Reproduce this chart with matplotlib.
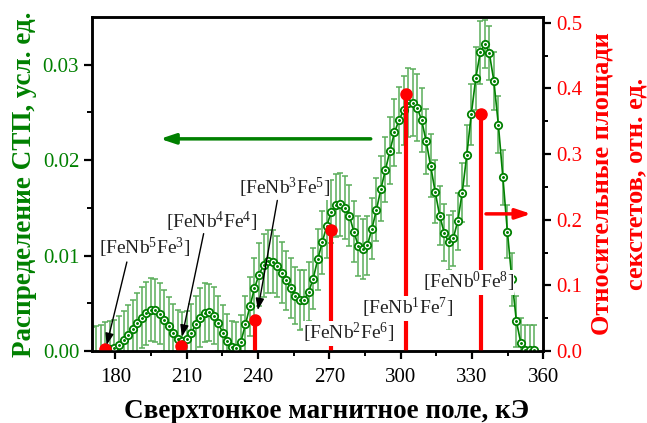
import numpy as np
import matplotlib
matplotlib.use('Agg')
import matplotlib.pyplot as plt

plt.rcParams['font.family'] = ['Liberation Serif', 'DejaVu Serif']
plt.rcParams['mathtext.fontset'] = 'custom'
plt.rcParams['mathtext.rm'] = 'Liberation Serif'
plt.rcParams['mathtext.it'] = 'Liberation Serif:italic'

# ── hyperfine field distribution (P(H)) ──
field = [170.1, 172.0, 173.9, 175.8, 177.7, 179.6, 181.5, 183.4, 185.3, 187.2,
         189.1, 191.0, 192.9, 194.8, 196.7, 198.6, 200.5, 202.4, 204.3, 206.2,
         208.1, 210.0, 211.9, 213.8, 215.7, 217.6, 219.5, 221.4, 223.3, 225.2,
         227.1, 229.0, 230.9, 232.8, 234.7, 236.6, 238.5, 240.4, 242.3, 244.2,
         246.1, 248.0, 249.9, 251.8, 253.7, 255.6, 257.5, 259.4, 261.3, 263.2,
         265.1, 267.0, 268.9, 270.8, 272.7, 274.6, 276.5, 278.4, 280.3, 282.2,
         284.1, 286.0, 287.9, 289.8, 291.7, 293.6, 295.5, 297.4, 299.3, 301.2,
         303.1, 305.0, 306.9, 308.8, 310.7, 312.6, 314.5, 316.4, 318.3, 320.2,
         322.1, 324.0, 325.9, 327.8, 329.7, 331.6, 333.5, 335.4, 337.3, 339.2,
         341.1, 343.0, 344.9, 346.8, 348.7, 350.6, 352.5, 354.4, 356.3]
p_h = [-0.6, -0.5, -0.3, 0.0, 0.2, 0.35, 0.63, 1.15, 1.7, 2.3,
       2.9, 3.5, 3.95, 4.35, 4.3, 3.9, 3.25, 2.6, 1.9, 1.3,
       1.05, 1.25, 1.9, 2.8, 3.5, 4.0, 4.05, 3.7, 2.9, 1.9,
       1.05, 0.4, 0.3, 1.0, 2.8, 4.7, 6.6, 8.0, 9.0, 9.4,
       9.35, 8.9, 8.2, 7.4, 6.6, 5.8, 5.35, 5.4, 6.2, 7.6,
       9.6, 11.4, 13.1, 14.6, 15.3, 15.4, 15.0, 14.2, 12.5, 11.0,
       10.7, 11.1, 12.8, 14.8, 17.0, 19.0, 21.0, 22.9, 24.2, 25.2,
       26.0, 26.0, 25.5, 24.2, 22.0, 19.4, 16.7, 14.2, 12.4, 11.4,
       11.8, 13.6, 16.6, 20.5, 24.8, 28.6, 31.3, 32.2, 31.2, 28.3,
       23.7, 18.2, 12.5, 7.5, 3.1, 0.8, 0.15, 0.1, 0.1]
p_err = [3.1, 3.1, 3.0, 3.0, 2.9, 2.9, 3.0, 3.0, 3.1, 3.1,
         3.2, 3.2, 3.3, 3.3, 3.3, 3.2, 3.2, 3.1, 3.0, 3.0,
         3.0, 3.0, 3.0, 3.0, 3.1, 3.1, 3.0, 3.0, 2.9, 2.9,
         2.8, 2.7, 2.7, 2.8, 3.0, 3.1, 3.2, 3.3, 3.3, 3.3,
         3.3, 3.2, 3.2, 3.1, 3.1, 3.0, 3.1, 3.1, 3.1, 3.2,
         3.2, 3.3, 3.3, 3.3, 3.3, 3.3, 3.3, 3.2, 3.2, 3.1,
         3.1, 3.1, 3.2, 3.3, 3.4, 3.4, 3.5, 3.5, 3.5, 3.6,
         3.6, 3.5, 3.5, 3.4, 3.4, 3.3, 3.3, 3.1, 3.0, 2.9,
         2.9, 3.0, 3.1, 3.2, 3.2, 3.3, 3.3, 2.5, 2.8, 3.0,
         3.0, 2.9, 2.8, 2.8, 2.7, 2.7, 2.6, 2.6, 2.6]

# ── relative sextet areas ──
sextet_field = [175.6, 207.5, 238.9, 270.5, 302.2, 333.8]
sextet_area = [0.003, 0.007, 0.048, 0.185, 0.392, 0.361]
sextet_labels = ['[FeNb$^5$Fe$^3$]', '[FeNb$^4$Fe$^4$]', '[FeNb$^3$Fe$^5$]',
                 '[FeNb$^2$Fe$^6$]', '[FeNb$^1$Fe$^7$]', '[FeNb$^0$Fe$^8$]']

x_ticks = [180, 210, 240, 270, 300, 330, 360]

GREEN = '#008000'
RED = '#ff0000'

fig = plt.figure(figsize=(6.47, 4.23), dpi=100)
ax = fig.add_axes([0.1417, 0.170, 0.698, 0.790])
ax2 = ax.twinx()

x = np.array(field)
y = np.array(p_h) * 1e-3
err = np.array(p_err) * 1e-3

ax.errorbar(x, y, yerr=err, fmt='none', ecolor='#5aad5a', elinewidth=1.1,
            capsize=1.9, capthick=1.1, zorder=2)
ax.plot(x, y, '-', color=GREEN, lw=1.2, zorder=3)
ax.plot(x, y, 'o', ms=5.3, mfc='white', mec=GREEN, mew=1.3, zorder=4)
ax.plot(x, y, 'o', ms=1.1, color=GREEN, zorder=5)

# red sticks drawn in the left axes but with the right-axis scale
ax.vlines(sextet_field, 0, sextet_area, color=RED, lw=3, zorder=6,
          transform=ax2.transData)
ax.plot(sextet_field, sextet_area, 'o', ms=8, color=RED, zorder=7,
        transform=ax2.transData)

ax.set_xlim(170, 360)
ax.set_ylim(0, 0.035)
ax2.set_ylim(0, 0.509)

ax.set_xticks(x_ticks)
ax.set_xticks([195, 225, 255, 285, 315, 345], minor=True)
ax.set_yticks([0.00, 0.01, 0.02, 0.03])
ax.set_yticks([0.005, 0.015, 0.025], minor=True)
ax.set_yticklabels(['0.00', '0.01', '0.02', '0.03'])
ax2.set_yticks([0.0, 0.1, 0.2, 0.3, 0.4, 0.5])
ax2.set_yticks([0.05, 0.15, 0.25, 0.35, 0.45], minor=True)

for a in (ax, ax2):
    for s in a.spines.values():
        s.set_linewidth(1.8)
        s.set_color('black')
ax.tick_params(axis='both', which='major', direction='out', length=6, width=1.6,
               labelsize=15, top=False, right=False, pad=3)
ax.tick_params(axis='x', which='major', pad=6)
ax.tick_params(axis='both', which='minor', direction='out', length=3.5, width=1.4,
               top=False, right=False)
ax.tick_params(axis='y', labelcolor=GREEN)
ax2.tick_params(axis='y', which='major', direction='out', length=6, width=1.6,
                labelsize=15, labelcolor=RED, pad=3)
ax2.tick_params(axis='y', which='minor', direction='out', length=3.5, width=1.4)

ax.set_xlabel('Сверхтонкое магнитное поле, кЭ', fontsize=19.5, fontweight='bold',
              labelpad=9, x=0.521)
ax.set_ylabel('Распределение СТП, усл. ед.', fontsize=19.5, fontweight='bold',
              color=GREEN, labelpad=4)
ax2.set_ylabel('Относительные площади\nсекстетов, отн. ед.', fontsize=19,
               fontweight='bold', color=RED, labelpad=6, linespacing=1.65)

# labels with arrows
text_pos = [(192.1, 0.01077), (220.5, 0.01352), (251.1, 0.01714),
            (278.1, 0.00188), (303.0, 0.0045), (328.4, 0.00721)]
arrow_tail = [(184.8, 0.00933), (217.1, 0.0123), (248.1, 0.01578)]
arrow_tip = [(176.3, 0.00063), (208.0, 0.0015), (239.9, 0.00429)]

for lbl, (tx, ty) in zip(sextet_labels, text_pos):
    ax.text(tx, ty, lbl, fontsize=14, ha='center', va='center', color='#222222',
            zorder=8, bbox=dict(facecolor='white', edgecolor='none', pad=0.3))
for (x0, y0), (x1, y1) in zip(arrow_tail, arrow_tip):
    ax.annotate('', xy=(x1, y1), xytext=(x0, y0),
                arrowprops=dict(arrowstyle='-|>,head_length=0.5,head_width=0.18',
                                color='black', lw=1.0, mutation_scale=14,
                                shrinkA=0, shrinkB=0), zorder=9)

# axis pointer arrows
ax.annotate('', xy=(198.8, 0.02223), xytext=(287.4, 0.02223),
            arrowprops=dict(arrowstyle='-|>,head_length=0.6,head_width=0.2',
                            color=GREEN, lw=2.5, mutation_scale=15,
                            shrinkA=0, shrinkB=0))
ax2.annotate('', xy=(354.9, 0.209), xytext=(335.9, 0.209),
             arrowprops=dict(arrowstyle='-|>,head_length=0.6,head_width=0.2',
                             color=RED, lw=2.5, mutation_scale=15,
                             shrinkA=0, shrinkB=0))

fig.savefig('out.png', dpi=100)
plt.close(fig)
